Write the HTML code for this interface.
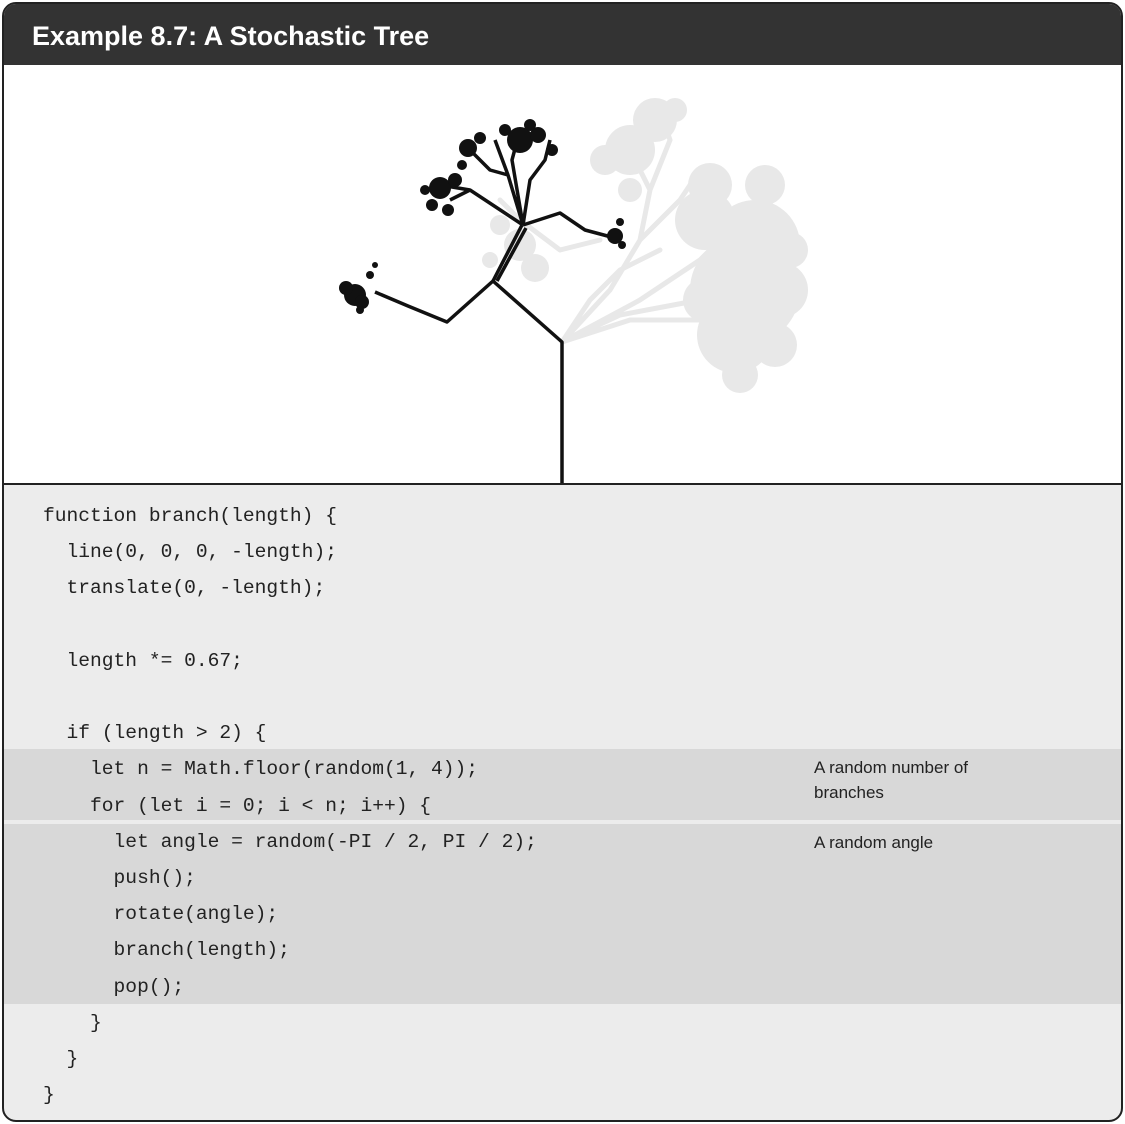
<!DOCTYPE html>
<html><head><meta charset="utf-8"><style>
body{margin:0;background:#fff;width:1125px;height:1124px;overflow:hidden;position:relative;font-family:"Liberation Sans",sans-serif}
.box{position:absolute;left:2px;top:2px;width:1117px;height:1116px;border:2px solid #222;border-radius:14px;overflow:hidden;background:#ececec}
.hdr{position:absolute;left:0;top:0;width:100%;height:61px;background:#333;color:#fff;font-weight:bold;font-size:27px;line-height:64px;padding-left:28px;box-sizing:border-box}
.draw{position:absolute;left:0;top:61px;width:100%;height:418px;background:#fff;border-bottom:2px solid #222}
.band{position:absolute;left:0;width:100%;background:#d8d8d8}
.code{position:absolute;left:0;font-family:"Liberation Mono",monospace;font-size:19.6px;color:#222;white-space:pre}
.note{position:absolute;left:814px;font-size:17px;color:#222;line-height:25px}
</style></head><body>
<div class="box">
<div class="hdr">Example 8.7: A Stochastic Tree</div>
<div class="draw"></div>
<div class="band" style="top:745px;height:71px"></div>
<div class="band" style="top:820px;height:180px"></div>
</div>
<svg style="position:absolute;left:0;top:0" width="1125" height="1124">
<g stroke="#e8e8e8" stroke-width="5" fill="none" stroke-linecap="round">
<path d="M562 342 L640 300 L700 260 L740 220 M562 342 L620 315 L700 300 L760 290 M562 342 L630 320 L720 320 L770 330 M562 342 L610 290 L640 240 L650 190 L630 150 M640 240 L680 200 L700 170 M562 342 L590 300 L620 270 L660 250 M560 250 L520 220 L500 200 M560 250 L600 240 M650 190 L670 140 L660 110"/>
</g>
<g fill="#e8e8e8">
<circle cx="745" cy="290" r="55"/><circle cx="755" cy="245" r="45"/><circle cx="735" cy="335" r="38"/><circle cx="780" cy="290" r="28"/><circle cx="705" cy="220" r="30"/><circle cx="740" cy="375" r="18"/><circle cx="790" cy="250" r="18"/><circle cx="710" cy="185" r="22"/><circle cx="765" cy="185" r="20"/><circle cx="775" cy="345" r="22"/><circle cx="705" cy="300" r="22"/>
<circle cx="630" cy="150" r="25"/><circle cx="655" cy="120" r="22"/><circle cx="605" cy="160" r="15"/><circle cx="675" cy="110" r="12"/><circle cx="630" cy="190" r="12"/>
<circle cx="520" cy="245" r="16"/><circle cx="535" cy="268" r="14"/><circle cx="500" cy="225" r="10"/><circle cx="490" cy="260" r="8"/>
</g>
<g stroke="#111" stroke-width="3.5" fill="none" stroke-linejoin="round">
<path d="M562 483 L562 342 L493 281 L447 322 L408 306 L375 292"/>
<path d="M493 281 L522 225 M497 281 L526 228"/>
<path d="M523 225 L560 213 L585 230 L615 238"/>
<path d="M523 225 L470 190 L450 200 M470 190 L440 185 M523 225 L508 175 L490 170 L470 150 M508 175 L495 140 M523 225 L512 160 L520 130 M523 225 L530 180 L545 160 L550 140"/>
</g>
<g fill="#111">
<circle cx="355" cy="295" r="11"/><circle cx="346" cy="288" r="7"/><circle cx="362" cy="302" r="7"/><circle cx="370" cy="275" r="4"/><circle cx="375" cy="265" r="3"/><circle cx="360" cy="310" r="4"/>
<circle cx="440" cy="188" r="11"/><circle cx="455" cy="180" r="7"/><circle cx="432" cy="205" r="6"/><circle cx="448" cy="210" r="6"/><circle cx="425" cy="190" r="5"/>
<circle cx="468" cy="148" r="9"/><circle cx="480" cy="138" r="6"/><circle cx="462" cy="165" r="5"/>
<circle cx="520" cy="140" r="13"/><circle cx="538" cy="135" r="8"/><circle cx="552" cy="150" r="6"/><circle cx="505" cy="130" r="6"/><circle cx="530" cy="125" r="6"/>
<circle cx="615" cy="236" r="8"/><circle cx="620" cy="222" r="4"/><circle cx="622" cy="245" r="4"/>
</g>
</svg>
<div class="code" style="top:498px;left:43px;line-height:36.2px">function branch(length) {
  line(0, 0, 0, -length);
  translate(0, -length);

  length *= 0.67;

  if (length &gt; 2) {
    let n = Math.floor(random(1, 4));
    for (let i = 0; i &lt; n; i++) {
      let angle = random(-PI / 2, PI / 2);
      push();
      rotate(angle);
      branch(length);
      pop();
    }
  }
}</div>
<div class="note" style="top:755px">A random number of<br>branches</div>
<div class="note" style="top:830px">A random angle</div>
</body></html>
